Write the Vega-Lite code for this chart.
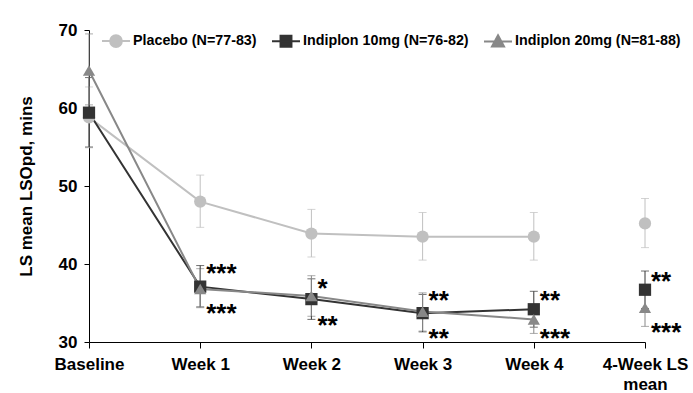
{
  "$schema": "https://vega.github.io/schema/vega-lite/v6.json",
  "width": 556,
  "height": 312,
  "autosize": {"type": "none"},
  "padding": {"left": 89, "top": 30, "right": 48, "bottom": 51},
  "background": "white",
  "config": {
    "view": {"stroke": null},
    "font": "Liberation Sans",
    "axis": {"grid": false, "domainColor": "black", "tickColor": "black", "labelColor": "black", "titleColor": "black", "labelFont": "Liberation Sans", "titleFont": "Liberation Sans", "labelFontWeight": "bold", "titleFontWeight": "bold"}
  },
  "datasets": {
    "main": [
      {"series": "Placebo (N=77-83)", "time": "Baseline", "mean": 58.8, "lo": 54.9, "hi": 62.7},
      {"series": "Placebo (N=77-83)", "time": "Week 1", "mean": 48.0, "lo": 44.7, "hi": 51.4},
      {"series": "Placebo (N=77-83)", "time": "Week 2", "mean": 43.9, "lo": 40.9, "hi": 47.0},
      {"series": "Placebo (N=77-83)", "time": "Week 3", "mean": 43.5, "lo": 40.5, "hi": 46.6},
      {"series": "Placebo (N=77-83)", "time": "Week 4", "mean": 43.5, "lo": 40.5, "hi": 46.6},
      {"series": "Placebo (N=77-83)", "time": "4-Week LS mean", "mean": 45.2, "lo": 42.1, "hi": 48.4},
      {"series": "Indiplon 10mg (N=76-82)", "time": "Baseline", "mean": 59.4, "lo": 55.0, "hi": 63.9},
      {"series": "Indiplon 10mg (N=76-82)", "time": "Week 1", "mean": 37.1, "lo": 34.5, "hi": 39.8},
      {"series": "Indiplon 10mg (N=76-82)", "time": "Week 2", "mean": 35.5, "lo": 32.9, "hi": 38.1},
      {"series": "Indiplon 10mg (N=76-82)", "time": "Week 3", "mean": 33.7, "lo": 31.3, "hi": 36.1},
      {"series": "Indiplon 10mg (N=76-82)", "time": "Week 4", "mean": 34.2, "lo": 31.9, "hi": 36.5},
      {"series": "Indiplon 10mg (N=76-82)", "time": "4-Week LS mean", "mean": 36.7, "lo": 34.3, "hi": 39.1},
      {"series": "Indiplon 20mg (N=81-88)", "time": "Baseline", "mean": 64.8, "lo": 60.4, "hi": 69.5},
      {"series": "Indiplon 20mg (N=81-88)", "time": "Week 1", "mean": 36.8, "lo": 34.4, "hi": 39.4},
      {"series": "Indiplon 20mg (N=81-88)", "time": "Week 2", "mean": 35.9, "lo": 33.3, "hi": 38.5},
      {"series": "Indiplon 20mg (N=81-88)", "time": "Week 3", "mean": 33.9, "lo": 31.4, "hi": 36.3},
      {"series": "Indiplon 20mg (N=81-88)", "time": "Week 4", "mean": 32.9, "lo": 31.1, "hi": 34.8},
      {"series": "Indiplon 20mg (N=81-88)", "time": "4-Week LS mean", "mean": 34.4, "lo": 32.0, "hi": 36.8}
    ],
    "stars": [
      {"time": "Week 1", "y": 39.6, "label": "***"},
      {"time": "Week 1", "y": 34.5, "label": "***"},
      {"time": "Week 2", "y": 37.7, "label": "*"},
      {"time": "Week 2", "y": 32.9, "label": "**"},
      {"time": "Week 3", "y": 36.1, "label": "**"},
      {"time": "Week 3", "y": 31.3, "label": "**"},
      {"time": "Week 4", "y": 36.1, "label": "**"},
      {"time": "Week 4", "y": 31.3, "label": "***"},
      {"time": "4-Week LS mean", "y": 38.6, "label": "**"},
      {"time": "4-Week LS mean", "y": 32.0, "label": "***"}
    ]
  },
  "encoding": {
    "x": {
      "field": "time", "type": "ordinal",
      "sort": ["Baseline", "Week 1", "Week 2", "Week 3", "Week 4", "4-Week LS mean"],
      "scale": {"type": "point", "padding": 0, "domain": ["Baseline", "Week 1", "Week 2", "Week 3", "Week 4", "4-Week LS mean"]},
      "axis": {"title": null, "labelAngle": 0, "labelFontSize": 17, "tickSize": 6, "labelPadding": 8, "labelLineHeight": 20,
        "labelExpr": "datum.label == '4-Week LS mean' ? ['4-Week LS', 'mean'] : datum.label"}
    }
  },
  "layer": [
    {
      "data": {"name": "main"},
      "mark": {"type": "errorbar", "ticks": {"size": 8}, "thickness": 1},
      "encoding": {
        "y": {"field": "lo", "type": "quantitative", "scale": {"domain": [30, 70], "nice": false, "zero": false},
          "axis": {"title": "LS mean LSOpd, mins", "values": [30, 40, 50, 60, 70], "labelFontSize": 17, "tickSize": 5, "labelPadding": 7, "titleFontSize": 17, "titlePadding": 23}},
        "y2": {"field": "hi"},
        "color": {"field": "series", "type": "nominal", "legend": null,
          "scale": {"domain": ["Placebo (N=77-83)", "Indiplon 10mg (N=76-82)", "Indiplon 20mg (N=81-88)"], "range": ["#c0c0c0", "#333333", "#888888"]}}
      }
    },
    {
      "data": {"name": "main"},
      "transform": [{"filter": "datum.time != '4-Week LS mean'"}],
      "mark": {"type": "line", "strokeWidth": 2},
      "encoding": {
        "y": {"field": "mean", "type": "quantitative"},
        "color": {"field": "series", "type": "nominal", "legend": null}
      }
    },
    {
      "data": {"name": "main"},
      "mark": {"type": "point", "filled": true, "size": 150, "opacity": 1},
      "encoding": {
        "y": {"field": "mean", "type": "quantitative"},
        "color": {"field": "series", "type": "nominal", "legend": null},
        "shape": {"field": "series", "type": "nominal", "legend": null,
          "scale": {"domain": ["Placebo (N=77-83)", "Indiplon 10mg (N=76-82)", "Indiplon 20mg (N=81-88)"], "range": ["circle", "square", "triangle-up"]}}
      }
    },
    {
      "data": {"name": "stars"},
      "mark": {"type": "text", "align": "left", "baseline": "alphabetic", "dx": 6, "dy": 15, "fontSize": 26, "fontWeight": "bold", "font": "Liberation Sans", "color": "black"},
      "encoding": {
        "y": {"field": "y", "type": "quantitative"},
        "text": {"field": "label"}
      }
    },
    {
      "data": {"name": "main"},
      "transform": [{"filter": "datum.time == 'Baseline'"}],
      "mark": {"type": "point", "filled": true, "size": 784, "opacity": 0},
      "encoding": {
        "y": {"field": "mean", "type": "quantitative"},
        "fill": {"field": "series", "type": "nominal",
          "scale": {"domain": ["Placebo (N=77-83)", "Indiplon 10mg (N=76-82)", "Indiplon 20mg (N=81-88)"], "range": ["#c0c0c0", "#333333", "#888888"]},
          "legend": {"title": null, "orient": "none", "legendX": 12, "legendY": -4, "direction": "horizontal", "columnPadding": 11, "labelOffset": 2, "symbolSize": 784, "symbolStrokeWidth": 2, "symbolOpacity": 1, "labelFont": "Liberation Sans", "labelFontSize": 14.3, "labelFontWeight": "bold", "labelColor": "black", "padding": 0, "labelLimit": 300}},
        "stroke": {"field": "series", "type": "nominal",
          "scale": {"domain": ["Placebo (N=77-83)", "Indiplon 10mg (N=76-82)", "Indiplon 20mg (N=81-88)"], "range": ["#c0c0c0", "#333333", "#888888"]},
          "legend": {"title": null, "orient": "none", "legendX": 12, "legendY": -4, "direction": "horizontal", "columnPadding": 11, "labelOffset": 2, "symbolSize": 784, "symbolStrokeWidth": 2, "symbolOpacity": 1, "labelFont": "Liberation Sans", "labelFontSize": 14.3, "labelFontWeight": "bold", "labelColor": "black", "padding": 0, "labelLimit": 300}},
        "shape": {"field": "series", "type": "nominal",
          "scale": {"domain": ["Placebo (N=77-83)", "Indiplon 10mg (N=76-82)", "Indiplon 20mg (N=81-88)"],
            "range": ["M-1,0H1M0.42,0A0.42,0.42,0,1,1,-0.42,0A0.42,0.42,0,1,1,0.42,0Z", "M-1,0H1M-0.39,-0.39H0.39V0.39H-0.39Z", "M-1,0H1M0,-0.44L0.43,0.36L-0.43,0.36Z"]},
          "legend": {"title": null, "orient": "none", "legendX": 12, "legendY": -4, "direction": "horizontal", "columnPadding": 11, "labelOffset": 2, "symbolSize": 784, "symbolStrokeWidth": 2, "symbolOpacity": 1, "labelFont": "Liberation Sans", "labelFontSize": 14.3, "labelFontWeight": "bold", "labelColor": "black", "padding": 0, "labelLimit": 300}}
      }
    }
  ],
  "resolve": {"scale": {"shape": "independent", "fill": "independent", "stroke": "independent"}}
}
